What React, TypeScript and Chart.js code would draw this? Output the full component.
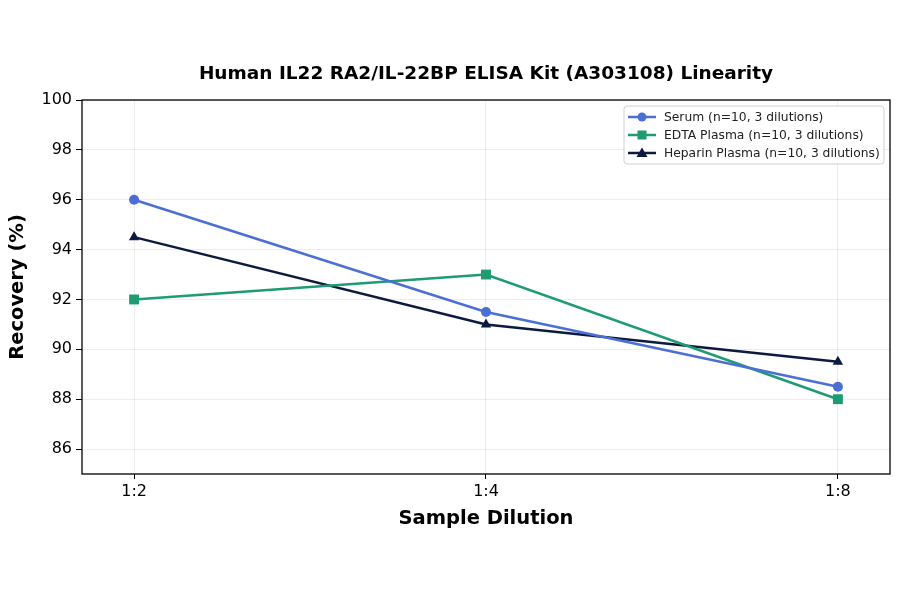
import { useEffect, useRef } from 'react';
import { Chart, registerables } from 'chart.js';

Chart.register(...registerables);

const dilutions = ['1:2', '1:4', '1:8'];
const serum = [96, 91.5, 88.5];
const edtaPlasma = [92, 93, 88];
const heparinPlasma = [94.5, 91, 89.5];
const yTicks = [86, 88, 90, 92, 94, 96, 98, 100];

const FONT = '"DejaVu Sans", sans-serif';

const seriesStyles = [
  { label: 'Serum (n=10, 3 dilutions)', color: '#4c6fd6', style: 'circle', data: serum },
  { label: 'EDTA Plasma (n=10, 3 dilutions)', color: '#1f9b73', style: 'rect', data: edtaPlasma },
  { label: 'Heparin Plasma (n=10, 3 dilutions)', color: '#0c1a3f', style: 'triangle', data: heparinPlasma },
];

// frame around the plot + legend box in the top right corner
const framePlugin = {
  id: 'frame',
  afterDraw(chart: Chart) {
    const { ctx, chartArea: a } = chart;
    ctx.save();
    ctx.strokeStyle = '#000';
    ctx.lineWidth = 1.3;
    ctx.strokeRect(a.left, a.top, a.right - a.left, a.bottom - a.top);

    const bx = a.right - 266, by = a.top + 6, bw = 260, bh = 58;
    ctx.fillStyle = 'rgba(255,255,255,0.85)';
    ctx.strokeStyle = '#d0d0d0';
    ctx.lineWidth = 1;
    ctx.beginPath();
    ctx.roundRect(bx, by, bw, bh, 3);
    ctx.fill();
    ctx.stroke();

    ctx.font = '12.3px ' + FONT;
    ctx.textBaseline = 'middle';
    seriesStyles.forEach((s, i) => {
      const y = by + 11 + i * 18;
      ctx.strokeStyle = s.color;
      ctx.fillStyle = s.color;
      ctx.lineWidth = 2.5;
      ctx.beginPath();
      ctx.moveTo(bx + 4, y);
      ctx.lineTo(bx + 32, y);
      ctx.stroke();
      if (s.style === 'circle') {
        ctx.beginPath();
        ctx.arc(bx + 18, y, 4.5, 0, Math.PI * 2);
        ctx.fill();
      } else if (s.style === 'rect') {
        ctx.fillRect(bx + 13.5, y - 4.5, 9, 9);
      } else {
        ctx.beginPath();
        ctx.moveTo(bx + 18, y - 5.5);
        ctx.lineTo(bx + 23.5, y + 4);
        ctx.lineTo(bx + 12.5, y + 4);
        ctx.closePath();
        ctx.fill();
      }
      ctx.fillStyle = '#222';
      ctx.fillText(s.label, bx + 40, y + 0.5);
    });
    ctx.restore();
  },
};

const App = () => {
  const canvasRef = useRef<HTMLCanvasElement | null>(null);

  useEffect(() => {
    document.body.style.margin = '0';
    if (!canvasRef.current) return;

    const chart = new Chart(canvasRef.current, {
      type: 'line',
      data: {
        datasets: seriesStyles.map(s => ({
          label: s.label,
          data: s.data.map((v, i) => ({ x: i, y: v })),
          borderColor: s.color,
          backgroundColor: s.color,
          borderWidth: 2.5,
          pointStyle: s.style as any,
          pointRadius: s.style === 'rect' ? 7 : s.style === 'triangle' ? 6 : 5,
          pointBorderWidth: 0,
          tension: 0,
        })),
      },
      options: {
        animation: false,
        responsive: true,
        maintainAspectRatio: false,
        layout: { padding: { top: 63, left: 6.3, right: 10, bottom: 63.3 } },
        plugins: {
          legend: { display: false },
          tooltip: { enabled: false },
          title: {
            display: true,
            fullSize: false,
            text: 'Human IL22 RA2/IL-22BP ELISA Kit (A303108) Linearity',
            color: '#000',
            font: { family: FONT, size: 18.5, weight: 'bold' },
            padding: { top: 0, bottom: 14.8 },
          },
        },
        scales: {
          x: {
            type: 'linear',
            min: -0.148,
            max: 2.148,
            afterBuildTicks: axis => {
              axis.ticks = dilutions.map((_, i) => ({ value: i }));
            },
            afterFit: axis => {
              axis.height = 56.7;
            },
            ticks: {
              callback: v => dilutions[Number(v)] ?? '',
              color: '#000',
              font: { family: FONT, size: 16 },
              padding: 3,
              maxRotation: 0,
            },
            grid: { color: 'rgba(0,0,0,0.07)', tickColor: '#000', tickLength: 5 },
            border: { display: false },
            title: {
              display: true,
              text: 'Sample Dilution',
              color: '#000',
              font: { family: FONT, size: 19.5, weight: 'bold' },
              padding: 0,
            },
          },
          y: {
            min: 85,
            max: 100,
            afterBuildTicks: axis => {
              axis.ticks = yTicks.map(v => ({ value: v }));
            },
            afterFit: axis => {
              axis.width = 75.7;
            },
            ticks: {
              color: '#000',
              font: { family: FONT, size: 16 },
              padding: 4,
            },
            grid: { color: 'rgba(0,0,0,0.07)', tickColor: '#000', tickLength: 6 },
            border: { display: false },
            title: {
              display: true,
              text: 'Recovery (%)',
              color: '#000',
              font: { family: FONT, size: 19.5, weight: 'bold' },
              padding: 0,
            },
          },
        },
      },
      plugins: [framePlugin],
    });

    return () => chart.destroy();
  }, []);

  return (
    <div style={{ width: 900, height: 594, background: '#fff', position: 'relative' }}>
      <canvas ref={canvasRef} />
    </div>
  );
};

export default App;
